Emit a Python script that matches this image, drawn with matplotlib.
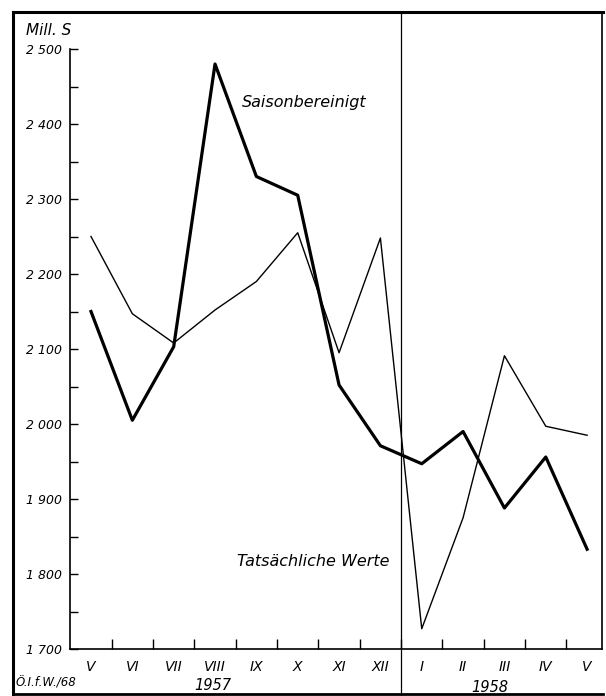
import matplotlib
matplotlib.use("Agg")
import matplotlib.pyplot as plt
from matplotlib.lines import Line2D
from matplotlib.ticker import FixedLocator

W, H = 606, 696  # pixels

months = ["V", "VI", "VII", "VIII", "IX", "X", "XI", "XII", "I", "II", "III", "IV", "V"]
saisonbereinigt = [2150, 2005, 2103, 2480, 2330, 2305, 2052, 1971, 1947, 1990, 1888, 1956, 1833]
tatsaechlich = [2250, 2147, 2108, 2152, 2190, 2255, 2095, 2248, 1727, 1875, 2091, 1997, 1985]
y_ticks = [1700, 1800, 1900, 2000, 2100, 2200, 2300, 2400, 2500]

plt.rcParams["font.family"] = "DejaVu Sans"
plt.rcParams["font.style"] = "italic"


def fx(px):
    return px / W


def fy(py):
    return 1 - py / H


fig = plt.figure(figsize=(W / 100, H / 100), dpi=100)
ax = fig.add_axes([fx(70), fy(649), fx(602) - fx(70), fy(13) - fy(649)])

x = list(range(len(months)))
ax.plot(x, tatsaechlich, color="black", lw=1.0, zorder=3)
ax.plot(x, saisonbereinigt, color="black", lw=2.3, zorder=4)

ax.set_xlim(-0.508, 12.36)
ax.set_ylim(1700, 2548)

# y axis
ax.spines["top"].set_visible(False)
ax.spines["left"].set_bounds(1700, 2500)
for s in ["left", "bottom", "right"]:
    ax.spines[s].set_linewidth(1.2)
ax.set_yticks(y_ticks, [f"{v:,}".replace(",", " ") for v in y_ticks])
ax.yaxis.set_minor_locator(FixedLocator([v + 50 for v in y_ticks[:-1]]))
ax.tick_params(axis="y", which="both", direction="in", length=6, width=1, pad=6,
               labelsize=9, right=False)

# x axis: labels at month centres, tick marks at month boundaries
ax.set_xticks(x, months)
ax.xaxis.set_minor_locator(FixedLocator([i + 0.5 for i in range(12)]))
ax.tick_params(axis="x", which="major", length=0, pad=8, labelsize=10)
ax.tick_params(axis="x", which="minor", direction="in", length=7, width=1)

# year divider
ax.plot([7.5, 7.5], [-0.075, 1], transform=ax.get_xaxis_transform(),
        color="black", lw=0.9, clip_on=False, zorder=2)

ax.text(3.65, 2429, "Saisonbereinigt", fontsize=11.5, va="center", ha="left")
ax.text(3.53, 1816, "Tatsächliche Werte", fontsize=11.5, va="center", ha="left")

fig.text(fx(26), fy(35), "Mill. S", fontsize=11, ha="left", va="baseline")
fig.text(fx(213), fy(686), "1957", fontsize=10.5, ha="center", va="center")
fig.text(fx(490), fy(688), "1958", fontsize=10.5, ha="center", va="center")
fig.text(fx(16), fy(683), "Ö.I.f.W./68", fontsize=8.5, ha="left", va="center")

# outer frame
frame = [
    ([13, 13], [12, 694], 2.2),
    ([13, 603], [12, 12], 2.2),
    ([13, 603], [694, 694], 2.0),
]
for xs, ys, lw in frame:
    fig.add_artist(Line2D([fx(v) for v in xs], [fy(v) for v in ys], color="black", lw=lw))

fig.savefig("out.png", dpi=100)
